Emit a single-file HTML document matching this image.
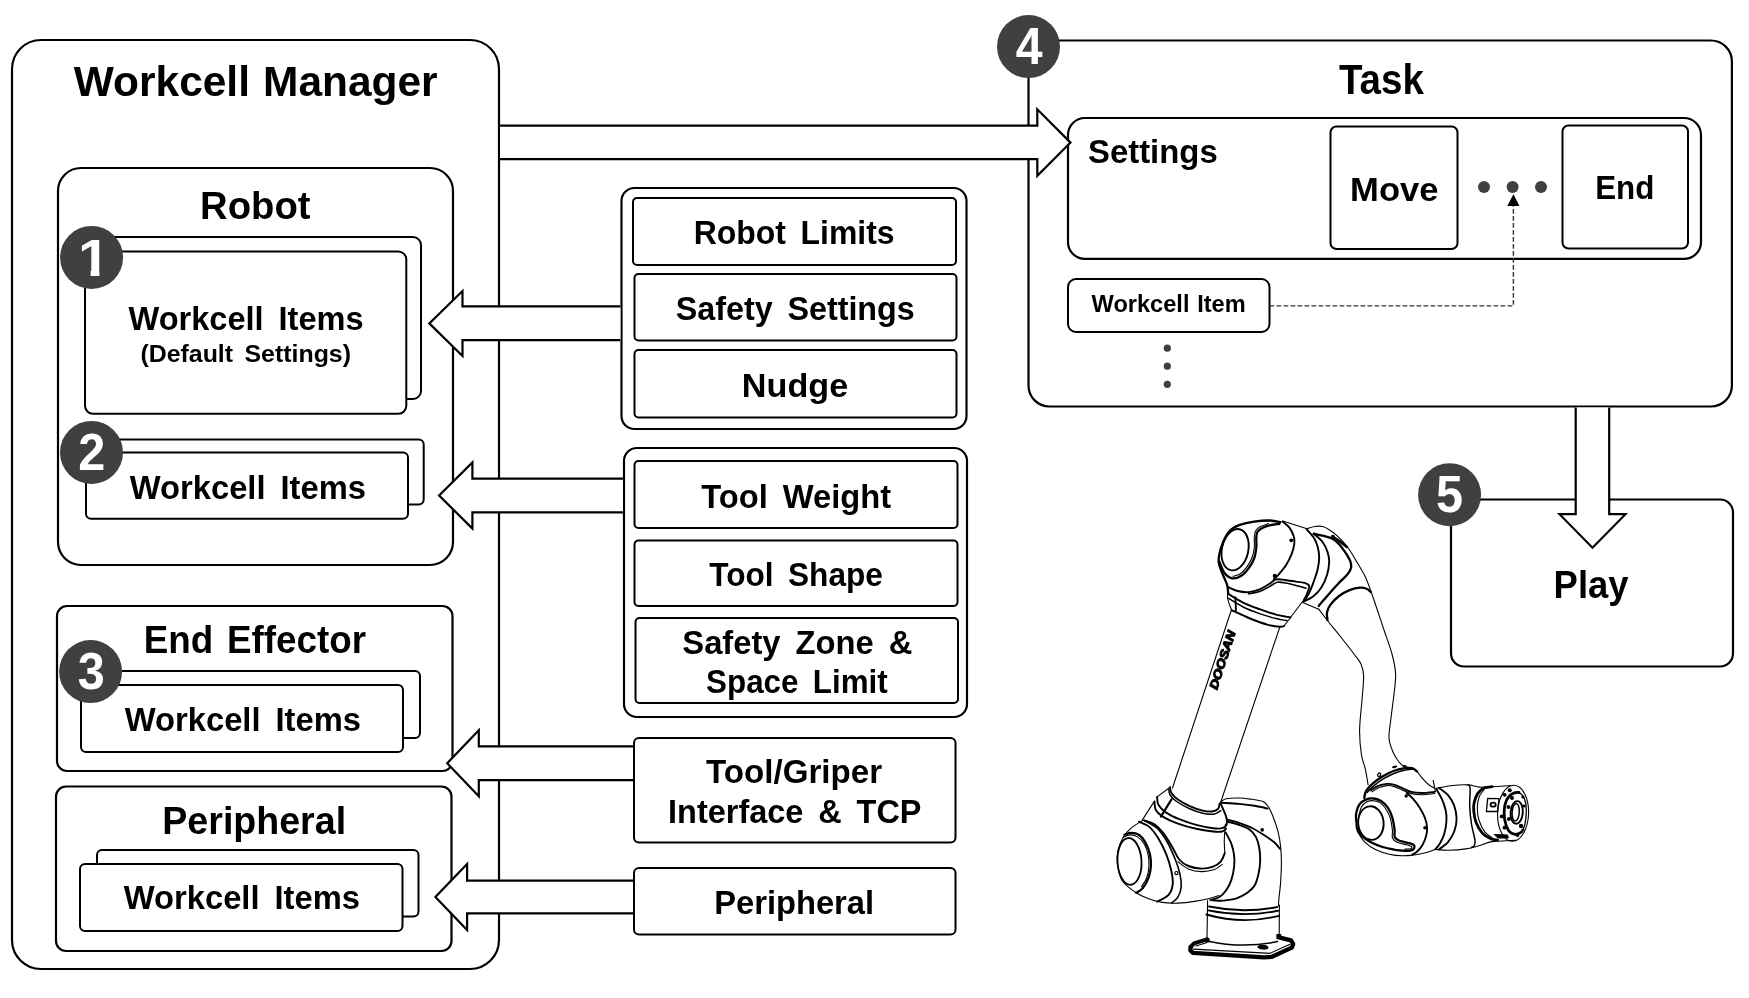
<!DOCTYPE html>
<html lang="en">
<head>
<meta charset="utf-8">
<title>Workcell Manager / Task / Play diagram</title>
<style>
html,body{margin:0;padding:0;background:#fff;}
body{width:1749px;height:998px;overflow:hidden;}
svg{display:block;filter:grayscale(1);}
text{font-family:"Liberation Sans","Noto Sans CJK KR",sans-serif;font-weight:bold;fill:#000;word-spacing:0.18em;}
.bx{fill:#fff;stroke:#000;stroke-width:2.2;}
.bx2{fill:#fff;stroke:#000;stroke-width:2;}
.ar{fill:#fff;stroke:#000;stroke-width:2.2;stroke-linejoin:miter;}
.cn{fill:#404040;}
.num{fill:#fff;font-size:52px;text-anchor:middle;}
.t1{font-size:43px;}
.t2{font-size:38px;}
.t3{font-size:33.5px;}
.t4{font-size:33.5px;}
.t5{font-size:24.7px;}
.t6{font-size:23.8px;}
.dot{fill:#404040;}
</style>
</head>
<body>
<svg width="1749" height="998" viewBox="0 0 1749 998">
<rect x="0" y="0" width="1749" height="998" fill="#fff"/>

<!-- ===== Workcell Manager column ===== -->
<g id="wm">
<rect class="bx" x="12" y="40" width="487" height="929" rx="29"/>
<text class="t1" x="73.8" y="95.7" textLength="363.8" lengthAdjust="spacingAndGlyphs" style="word-spacing:0.03em">Workcell Manager</text>

<!-- Robot -->
<rect class="bx" x="58" y="168" width="395" height="397" rx="23"/>
<text class="t2" x="200.1" y="218.6" textLength="110.4" lengthAdjust="spacingAndGlyphs">Robot</text>
<rect class="bx2" x="100" y="237" width="321" height="162" rx="8"/>
<rect class="bx2" x="85" y="251.500" width="321.300" height="162.300" rx="8"/>
<text class="t3" x="128.5" y="330.1" textLength="235.1" lengthAdjust="spacingAndGlyphs">Workcell Items</text>
<text class="t5" x="140.4" y="361.8" textLength="210.6" lengthAdjust="spacingAndGlyphs">(Default Settings)</text>
<rect class="bx2" x="101" y="439.500" width="322.700" height="65" rx="5"/>
<rect class="bx2" x="86" y="452.500" width="322" height="66.300" rx="5"/>
<text class="t3" x="129.8" y="498.5" textLength="236.1" lengthAdjust="spacingAndGlyphs">Workcell Items</text>

<!-- End Effector -->
<rect class="bx" x="57" y="606" width="395.500" height="165" rx="10"/>
<text class="t2" x="143.7" y="652.9" textLength="222.4" lengthAdjust="spacingAndGlyphs" style="word-spacing:0.1em">End Effector</text>
<rect class="bx2" x="97" y="671" width="323" height="67" rx="5"/>
<rect class="bx2" x="81" y="685" width="322" height="67" rx="5"/>
<text class="t3" x="124.8" y="731.0" textLength="236.1" lengthAdjust="spacingAndGlyphs">Workcell Items</text>

<!-- Peripheral -->
<rect class="bx" x="56" y="786.500" width="395.500" height="164.500" rx="10"/>
<text class="t2" x="162.3" y="833.9" textLength="183.8" lengthAdjust="spacingAndGlyphs">Peripheral</text>
<rect class="bx2" x="97" y="850" width="321.500" height="66.500" rx="5"/>
<rect class="bx2" x="80" y="864" width="322.500" height="67" rx="5"/>
<text class="t3" x="123.8" y="909.4" textLength="236.1" lengthAdjust="spacingAndGlyphs">Workcell Items</text>
</g>

<!-- ===== Middle column ===== -->
<g id="mid">
<rect class="bx" x="621.500" y="188" width="345" height="241" rx="13"/>
<rect class="bx2" x="633" y="198" width="323" height="67" rx="4"/>
<rect class="bx2" x="634.500" y="274" width="322" height="66.500" rx="4"/>
<rect class="bx2" x="634.500" y="350" width="322" height="67.500" rx="4"/>
<text class="t4" x="693.7" y="244.4" textLength="200.9" lengthAdjust="spacingAndGlyphs">Robot Limits</text>
<text class="t4" x="675.7" y="319.7" textLength="239.1" lengthAdjust="spacingAndGlyphs">Safety Settings</text>
<text class="t4" x="741.8" y="396.5" textLength="106.4" lengthAdjust="spacingAndGlyphs">Nudge</text>

<rect class="bx" x="624" y="448" width="343" height="269" rx="13"/>
<rect class="bx2" x="634.500" y="461" width="323" height="67" rx="4"/>
<rect class="bx2" x="634.500" y="540.500" width="323" height="65.500" rx="4"/>
<rect class="bx2" x="635.500" y="618" width="322.500" height="85" rx="4"/>
<text class="t4" x="701.3" y="507.6" textLength="189.9" lengthAdjust="spacingAndGlyphs">Tool Weight</text>
<text class="t4" x="709.2" y="585.7" textLength="173.7" lengthAdjust="spacingAndGlyphs">Tool Shape</text>
<text class="t4" x="682.3" y="654.0" textLength="230.1" lengthAdjust="spacingAndGlyphs">Safety Zone &amp;</text>
<text class="t4" x="706.1" y="693.1" textLength="181.6" lengthAdjust="spacingAndGlyphs">Space Limit</text>

<rect class="bx2" x="634" y="738" width="321.500" height="104.500" rx="5"/>
<text class="t4" x="706.1" y="782.9" textLength="176.0" lengthAdjust="spacingAndGlyphs">Tool/Griper</text>
<text class="t4" x="668.1" y="822.7" textLength="253.4" lengthAdjust="spacingAndGlyphs">Interface &amp; TCP</text>
<rect class="bx2" x="634" y="868" width="321.500" height="66.500" rx="5"/>
<text class="t4" x="714.2" y="913.9" textLength="159.9" lengthAdjust="spacingAndGlyphs">Peripheral</text>
</g>

<!-- ===== Task ===== -->
<g id="task">
<rect class="bx" x="1028.500" y="40.500" width="703.400" height="366" rx="21"/>
<text class="t1" x="1338.9" y="94.0" textLength="85.0" lengthAdjust="spacingAndGlyphs">Task</text>
<rect class="bx" x="1068" y="118" width="633" height="140.900" rx="17"/>
<text class="t4" x="1088.0" y="163.2" textLength="129.7" lengthAdjust="spacingAndGlyphs">Settings</text>
<rect class="bx2" x="1330.500" y="126.500" width="127" height="122.500" rx="6"/>
<text class="t4" x="1350.1" y="200.6" textLength="88.4" lengthAdjust="spacingAndGlyphs">Move</text>
<rect class="bx2" x="1562.500" y="125.500" width="125.500" height="123" rx="6"/>
<text class="t4" x="1595.2" y="199.2" textLength="59.2" lengthAdjust="spacingAndGlyphs">End</text>
<circle class="dot" cx="1484" cy="187" r="6"/>
<circle class="dot" cx="1512.600" cy="187" r="6"/>
<circle class="dot" cx="1541" cy="187" r="6"/>
<rect class="bx2" x="1068" y="279" width="201.500" height="53" rx="8"/>
<text class="t6" x="1091.6" y="311.5" textLength="154.1" lengthAdjust="spacingAndGlyphs" style="word-spacing:0.05em">Workcell Item</text>
<path d="M1269.500 305.900H1513.400V206" fill="none" stroke="#333" stroke-width="1.400" stroke-dasharray="4.800 2.200"/>
<path d="M1513.400 194.300L1519.500 206H1507.300Z" fill="#000"/>
<circle class="dot" cx="1167.300" cy="348.200" r="3.600"/>
<circle class="dot" cx="1167.300" cy="366.200" r="3.600"/>
<circle class="dot" cx="1167.300" cy="384.300" r="3.600"/>
</g>

<!-- ===== Play ===== -->
<g id="play">
<rect class="bx" x="1451" y="499.500" width="282" height="167" rx="13"/>
<text class="t2" x="1553.6" y="597.5" textLength="75.0" lengthAdjust="spacingAndGlyphs">Play</text>
</g>

<!-- ===== Block arrows ===== -->
<g id="arrows">
<path class="ar" d="M500.100 125.700H1037.300V109.300L1070.500 142.600L1037.300 175.900V159.200H500.100"/>
<path class="ar" d="M620.400 306.400H462.500V291L429.300 323.400L462.500 356V340.200H620.400"/>
<path class="ar" d="M622.900 478.600H472.400V462.500L439.100 495.500L472.400 528.500V512.400H622.900"/>
<path class="ar" d="M633 746.400H478.800V730.200L447.200 763.200L478.800 796.200V780.200H633"/>
<path class="ar" d="M633 880.600H467.100V864L435.400 896.900L467.100 930V913.300H633"/>
<path class="ar" d="M1575.700 407.600V514.200H1559.500L1592.500 547.700L1625.500 514.200H1609.200V407.600"/>
</g>

<!-- ===== Number badges ===== -->
<g id="badges">
<circle class="cn" cx="91.600" cy="257.400" r="31.500"/><clipPath id="c1"><rect x="60" y="225" width="65" height="44.800"/><rect x="90.600" y="269" width="8.800" height="10"/></clipPath><text class="num" x="94" y="275.800" textLength="31.800" lengthAdjust="spacingAndGlyphs" clip-path="url(#c1)">1</text>
<circle class="cn" cx="91.500" cy="452.400" r="31.500"/><text class="num" x="91.800" y="470.200" textLength="27" lengthAdjust="spacingAndGlyphs">2</text>
<circle class="cn" cx="90.600" cy="671.600" r="31.500"/><text class="num" x="91.200" y="689" textLength="27" lengthAdjust="spacingAndGlyphs">3</text>
<circle class="cn" cx="1028.500" cy="46.600" r="31.500"/><text class="num" x="1029.100" y="64.300" textLength="26.800" lengthAdjust="spacingAndGlyphs">4</text>
<circle class="cn" cx="1449.600" cy="494.700" r="31.500"/><text class="num" x="1449.600" y="512.200" textLength="27" lengthAdjust="spacingAndGlyphs">5</text>
</g>

<!-- ROBOT-START -->
<g id="robot" fill="none" stroke="#000" stroke-linecap="round" stroke-linejoin="round">
<path d="M1190.6 947L1194 943.4L1207 939.3" stroke-width="4"/>
<path d="M1280 937.6L1291 940.3L1293.2 944L1291.8 947.6L1272 956.8L1264 957.3L1193 952.8L1190.4 950.4L1190.6 947" stroke-width="4.3"/>
<path d="M1193.5 949.2L1270 953.3L1290 944.3" stroke-width="1.2"/>
<path d="M1196 946L1207 942.5" stroke-width="1.2"/>
<ellipse cx="1263" cy="947.2" rx="5.6" ry="2.4" fill="#000" stroke="none" transform="rotate(5 1263 947.2)"/>
<path d="M1207.6 900.5L1207 939" stroke-width="1.1"/>
<path d="M1279.4 905L1279.2 936" stroke-width="1.1"/>
<path d="M1208.5 941.2Q1243 948.8 1277.5 941.6" stroke-width="1.5"/>
<path d="M1209 906.5Q1243 913.6 1277.3 907" stroke-width="1.9"/>
<path d="M1208.4 910.4Q1243 917.6 1278 910.8" stroke-width="1.9"/>
<path d="M1206.3 914.5Q1243 925 1279 915.8" stroke-width="1.9"/>
<rect x="1276.4" y="934" width="4.8" height="5.2" fill="#000" stroke="none"/>
<rect x="1205" y="938.4" width="4.6" height="4" fill="#000" stroke="none"/>
<path d="M1220.8 801.9C1221.7 801.4 1223 799.4 1226 798.7C1229 798.1 1234.8 797.9 1239.1 798C1243.4 798.1 1248.2 798.8 1252.1 799.3C1256 799.8 1259.9 800.2 1262.5 801.3C1265.1 802.4 1266 803.3 1267.7 805.8C1269.4 808.3 1271.2 811.9 1272.9 816.3C1274.6 820.6 1276.8 826.7 1278.1 831.9C1279.4 837.1 1280.2 842.3 1280.7 847.5C1281.2 852.7 1281.4 857.5 1281.4 863.1C1281.4 868.8 1281.1 875.3 1280.7 881.4C1280.3 887.5 1279.2 895.5 1278.8 899.6C1278.4 903.7 1278.6 904.9 1278.6 906" stroke-width="1.1"/>
<path d="M1221.5 802.8C1224.4 803 1233.6 803.4 1239.1 803.9C1244.6 804.4 1249.9 805 1254.7 805.8C1259.5 806.6 1265.5 808.1 1267.7 808.6" stroke-width="1.9"/>
<path d="M1227.3 819.5C1229.3 820 1235 821.4 1239.1 822.8C1243.2 824.2 1247.8 825.8 1252.1 828C1256.4 830.2 1261.4 833.4 1265.1 835.8C1268.8 838.2 1271.7 840.1 1274.2 842.3C1276.7 844.5 1279.1 847.7 1280.1 848.8" stroke-width="1.9"/>
<path d="M1227.3 821.7C1229.3 822.2 1235.4 823.6 1239.1 824.9C1242.8 826.2 1246.7 827.5 1249.5 829.5C1252.3 831.5 1254.4 834.1 1256 837.1C1257.6 840.1 1258.5 843.6 1259.2 847.5C1259.9 851.4 1260.3 856.2 1260.2 860.5C1260.1 864.8 1259.5 869.4 1258.6 873.5C1257.7 877.6 1256.7 882 1254.7 885.3C1252.8 888.6 1249.9 890.9 1246.9 893.1C1243.9 895.3 1240.4 897 1236.5 898.3C1232.6 899.5 1227.3 900.2 1223.4 900.6C1219.5 901 1214.7 900.4 1213 900.4" stroke-width="1.9"/>
<path d="M1225.6 832.4C1226.5 834.3 1229.9 839.8 1231.3 843.6C1232.7 847.4 1233.6 851.4 1234.1 855.3C1234.6 859.2 1234.6 862.9 1234.1 867C1233.6 871.1 1232.6 876.2 1231.3 880.1C1230 884 1228 887.7 1226 890.5C1224 893.3 1222.1 895.4 1219.5 897C1216.9 898.6 1211.9 899.7 1210.4 900.2" stroke-width="1.9"/>
<path d="M1225.4 824.1C1225.2 826.7 1224.4 834.9 1224.3 839.7C1224.2 844.5 1224.7 850.8 1224.8 853" stroke-width="1.1"/>
<circle cx="1262.2" cy="829.9" r="1.8" fill="#000" stroke="none"/>
<path d="M1142.8 820.4C1140.8 821.7 1134.4 825.4 1131.1 828.2C1127.8 831 1125.4 833.6 1123.2 837.3C1121 841 1119 845.9 1118 850.3C1117 854.6 1116.8 858.4 1117.4 863.4C1118.1 868.4 1119 875.5 1121.9 880.3C1124.8 885.1 1130.7 889 1135 892C1139.3 895 1143.5 896.8 1148 898.5C1152.5 900.2 1157.3 901.6 1162.3 902.4C1167.3 903.2 1172.2 903.3 1177.9 903.1C1183.6 902.9 1191 901.9 1196.2 901.1C1201.4 900.3 1205.4 899.4 1209.2 898.5C1213 897.6 1217.4 896 1219 895.5" stroke-width="1.1"/>
<ellipse cx="1129.5" cy="861.4" rx="12" ry="23.4" transform="rotate(-3 1129.5 861.4)" stroke-width="1.8"/>
<path d="M1124.5 834.7C1125.6 834.4 1128.7 832.8 1131.1 832.8C1133.5 832.8 1136.5 833.1 1138.9 834.7C1141.3 836.3 1143.6 839.2 1145.4 842.5C1147.2 845.8 1149 850.3 1149.9 854.2C1150.8 858.1 1151.1 862.1 1150.9 866C1150.7 869.9 1149.9 874 1148.6 877.7C1147.2 881.4 1144.8 885.6 1142.8 888.1C1140.8 890.6 1137.4 891.9 1136.3 892.7" stroke-width="2.3"/>
<path d="M1123.2 837.3C1124.3 836.9 1127.3 835 1129.7 834.9C1132.1 834.8 1135.2 835.4 1137.6 836.9C1140 838.4 1142.4 840.9 1144.1 843.8C1145.8 846.7 1147.2 850.5 1148 854.2C1148.8 857.9 1149.2 862.1 1149 866C1148.8 869.9 1148 874.2 1146.7 877.7C1145.5 881.2 1142.4 885.3 1141.5 886.8" stroke-width="1.1"/>
<path d="M1138.9 821.7C1140.6 822.6 1146 824.1 1149.3 826.9C1152.5 829.7 1155.6 834 1158.4 838.6C1161.2 843.2 1164 848.8 1166.2 854.2C1168.4 859.6 1170.3 866.2 1171.4 871.2C1172.5 876.2 1173.1 880.3 1172.7 884.2C1172.3 888.1 1171.4 891.7 1168.8 894.6C1166.2 897.5 1159 900.6 1157.1 901.8" stroke-width="1.9"/>
<path d="M1144.1 820.4C1146.3 821.7 1153.2 824.5 1157.1 828.2C1161 831.9 1164.5 837.3 1167.5 842.5C1170.5 847.7 1173.2 854.3 1175.3 859.5C1177.4 864.7 1178.9 869.2 1179.9 873.8C1180.9 878.3 1181.5 882.9 1181.2 886.8C1180.9 890.7 1179.5 894.5 1177.9 897.2C1176.3 899.9 1172.5 902.1 1171.4 903.1" stroke-width="1.6"/>
<path d="M1144.1 820.4C1145.8 821 1151.2 822.1 1154.5 824.3C1157.8 826.5 1160.6 829.5 1163.6 833.4C1166.6 837.3 1170.1 843.4 1172.7 847.7C1175.3 852.1 1176.6 856.5 1179.2 859.5C1181.8 862.5 1184.7 864.5 1188.4 866C1192.1 867.5 1197.3 868.5 1201.4 868.6C1205.5 868.7 1209.8 867.8 1213.1 866.6C1216.3 865.4 1219 863.7 1220.9 861.4C1222.9 859.1 1224.2 854.4 1224.8 853" stroke-width="1.9"/>
<path d="M1177.9 861.8C1179.7 863 1184.5 867.3 1188.4 868.9C1192.3 870.5 1197.1 871.5 1201.4 871.6C1205.7 871.7 1210.9 870.8 1214.4 869.6C1217.9 868.4 1220.9 865.3 1222.2 864.4" stroke-width="1.1"/>
<path d="M1170.1 787.2C1170.3 788.2 1170.1 791 1171.4 793C1172.7 795 1174.9 797.3 1177.9 799.5C1181 801.7 1185.6 804.2 1189.7 806.1C1193.8 808 1198.8 809.7 1202.7 810.6C1206.6 811.5 1210.5 811.6 1213.1 811.3C1215.7 811 1217.2 810 1218.3 808.7C1219.4 807.4 1219.4 804.3 1219.6 803.4" stroke-width="1.9"/>
<path d="M1168.8 789.1C1169 790.1 1168.8 792.9 1170.1 795C1171.4 797.1 1173.3 799.2 1176.6 801.5C1179.9 803.8 1185.3 806.8 1189.7 808.7C1194.1 810.7 1198.6 812.3 1202.7 813.2C1206.8 814.1 1211.4 814.3 1214.4 813.9C1217.4 813.5 1219.8 811.1 1220.9 810.6" stroke-width="1.5"/>
<path d="M1157.1 796.9C1157.3 798.2 1156.9 802.1 1158.4 804.7C1159.9 807.3 1162.7 810.2 1166.2 812.6C1169.7 815 1174.2 817.1 1179.2 819.1C1184.2 821.1 1190.6 823.4 1196.2 824.9C1201.8 826.4 1208.8 827.7 1213.1 828.2C1217.4 828.8 1219.9 828.9 1222.2 828.2C1224.5 827.6 1226.2 826.2 1226.8 824.3C1227.4 822.3 1227.1 819.9 1226.1 816.5C1225.1 813.1 1221.8 806.2 1220.9 804.1" stroke-width="1.9"/>
<path d="M1154.5 801.5C1154.7 802.9 1154.3 807.4 1155.8 810C1157.3 812.6 1159.9 814.8 1163.6 817.1C1167.3 819.4 1172.5 821.7 1177.9 823.6C1183.3 825.5 1190.3 827.5 1196.2 828.8C1202.1 830.1 1208.8 831 1213.1 831.5C1217.4 832 1220 832 1222.2 831.5C1224.4 831 1225.4 829.2 1226.1 828.8" stroke-width="1.9"/>
<path d="M1170.1 787.2L1157.1 796.9" stroke-width="1.1"/>
<path d="M1153.8 802.1L1142.1 820.4" stroke-width="1.1"/>
<path d="M1171.4 799.5L1161 816.5" stroke-width="2.3"/>
<circle cx="1176.4" cy="873.1" r="1.6" stroke-width="1.2"/>
<path d="M1231.5 609.5L1172.5 788" stroke-width="1.1"/>
<path d="M1280 626.5L1220.6 802.5" stroke-width="1.1"/>
<text transform="translate(1216.9 690.2) rotate(-72)" font-size="12" font-style="italic" textLength="61" lengthAdjust="spacingAndGlyphs" stroke="#000" stroke-width="1.1" style="word-spacing:0">DOOSAN</text>
<path d="M1280.5 522.1C1278.7 521.8 1273.9 520.6 1269.5 520.5C1265.1 520.4 1259 520.9 1254.1 521.6C1249.1 522.3 1243.8 523.4 1239.8 524.9C1235.8 526.4 1232.6 528 1229.8 530.9C1227 533.8 1224.9 538.1 1223.2 542C1221.5 545.9 1220.1 550.6 1219.4 554.1C1218.7 557.6 1218.3 559.8 1218.8 562.9C1219.2 566 1220.7 569.1 1222.1 572.8C1223.5 576.5 1226.1 581.4 1227.1 584.9C1228.1 588.4 1228 592.3 1228.2 593.8" stroke-width="2.3"/>
<ellipse cx="1235.1" cy="549.7" rx="13.2" ry="20.9" transform="rotate(12 1235.1 549.7)" stroke-width="1.9"/>
<path d="M1219.4 561.8C1220.2 563.6 1222.2 570 1224.3 572.8C1226.4 575.5 1229.2 577.8 1232 578.3C1234.8 578.8 1238.1 577.8 1240.9 576.1C1243.7 574.5 1246.4 571.3 1248.6 568.4C1250.8 565.5 1252.8 562 1254.1 558.5C1255.4 555 1255.9 551 1256.3 547.5C1256.7 544 1256.1 540.2 1256.3 537.6C1256.5 535 1256.5 533.6 1257.4 532C1258.3 530.4 1259.8 529.3 1261.8 528.2C1263.8 527.1 1266.6 526.1 1269.5 525.4C1272.4 524.7 1277.8 524.1 1279.4 523.8" stroke-width="2.3"/>
<path d="M1233 576.3C1234.2 575.9 1237.7 575.5 1240 574C1242.3 572.5 1244.6 570.1 1246.6 567.4C1248.6 564.6 1250.8 560.8 1252.1 557.5C1253.4 554.2 1253.9 550.8 1254.3 547.5C1254.7 544.2 1254.1 540.4 1254.3 537.6C1254.5 534.9 1254.6 532.8 1255.6 531C1256.6 529.2 1258.3 527.8 1260.5 526.6C1262.7 525.4 1267.2 524.1 1268.5 523.6" stroke-width="1.1"/>
<path d="M1282.7 521.6C1283.8 522.6 1287.6 525.1 1289.4 527.6C1291.2 530.1 1293 533.7 1293.8 536.5C1294.6 539.3 1294.7 541.3 1294.3 544.2C1293.9 547.1 1293 550.6 1291.6 554.1C1290.2 557.6 1288.3 561.6 1286.1 565.1C1283.9 568.6 1280.3 572.7 1278.3 575C1276.3 577.3 1274.6 578.2 1273.9 578.9" stroke-width="1.9"/>
<circle cx="1291.3" cy="540.3" r="1.9" fill="#000" stroke="none"/>
<circle cx="1274.8" cy="575.9" r="2.1" fill="#000" stroke="none"/>
<path d="M1228.2 587.2C1229.8 587.8 1234.2 590.2 1237.6 591C1241 591.8 1244.9 592.4 1248.6 592.1C1252.3 591.8 1256.1 590.8 1259.6 589.4C1263.1 588 1266.8 585.5 1269.5 583.8C1272.2 582.1 1273.5 580 1276.1 579.4C1278.7 578.8 1281.7 579.6 1285 580C1288.3 580.4 1292.5 581.1 1296 581.6C1299.5 582.1 1303.7 582.5 1305.9 583.3C1308.1 584 1309 584.4 1309.2 586.1C1309.4 587.9 1307.9 591.4 1307 593.8C1306.1 596.2 1304.2 599.3 1303.7 600.4" stroke-width="1.9"/>
<path d="M1248.6 593.8C1250.4 593.4 1256.1 592.8 1259.6 591.6C1263.1 590.4 1266.6 588.2 1269.5 586.6C1272.4 585 1274.2 582.8 1277.2 582.2C1280.2 581.7 1283.7 582.6 1287.2 583.3C1290.7 583.9 1295.1 585.3 1298.2 586.1C1301.3 586.9 1304.6 587.9 1305.9 588.3" stroke-width="1.6"/>
<path d="M1282.7 521L1307 528.7" stroke-width="1.1"/>
<path d="M1306.6 529.3C1307.8 530.7 1311.9 534.8 1313.7 537.6C1315.5 540.5 1316.7 543.1 1317.6 546.4C1318.5 549.7 1319.2 553.5 1319.2 557.4C1319.2 561.2 1318.5 565.5 1317.6 569.5C1316.7 573.5 1315.1 577.7 1313.7 581.6C1312.3 585.5 1310.8 589.5 1309.3 592.7C1307.8 595.9 1305.3 599.6 1304.5 601" stroke-width="1.9"/>
<path d="M1313.7 533.7C1315.2 535.1 1320.3 539 1322.6 542C1324.9 545 1326.4 548.6 1327.5 551.9C1328.6 555.2 1329.3 557.9 1329.2 561.8C1329.1 565.6 1328.3 570.8 1327 575C1325.7 579.2 1323.7 583.7 1321.5 587.2C1319.3 590.7 1316.7 593.6 1313.7 596C1310.8 598.4 1305.5 600.6 1303.8 601.5" stroke-width="1.9"/>
<path d="M1313.7 533.7C1315.4 534.1 1320.6 535.1 1323.7 535.9C1326.8 536.7 1329.9 537.3 1332.5 538.7C1335.1 540.1 1336.9 541.8 1339.1 544.2C1341.3 546.6 1343.9 550.2 1345.7 553C1347.5 555.8 1349.2 558.3 1350.1 560.7C1351 563.1 1351.6 565.1 1351.2 567.3C1350.8 569.5 1349.9 571.3 1347.9 573.9C1345.9 576.5 1342.4 579.2 1339.1 582.7C1335.8 586.2 1331.5 591 1328.1 594.9C1324.7 598.8 1320.3 604.1 1318.7 605.9" stroke-width="2.3"/>
<path d="M1332.5 536.5C1333.6 537.2 1336.7 539.2 1339.1 540.9C1341.5 542.6 1345.5 545.9 1346.8 546.9" stroke-width="2.6"/>
<path d="M1307 528.7C1308.3 528.3 1312.2 526.9 1314.8 526.5C1317.4 526.1 1320.2 526 1322.6 526.5C1325 527 1326.5 527.9 1329.2 529.8C1332 531.6 1336 534.6 1339.1 537.6C1342.2 540.6 1345 543.5 1347.9 547.5C1350.8 551.5 1353.8 556.8 1356.7 561.8C1359.6 566.8 1363.1 572.2 1365.5 577.2C1367.9 582.2 1369.2 586.8 1371 591.6C1372.8 596.4 1373.8 599.6 1376 606C1378.2 612.4 1381.3 622 1384 630C1386.7 638 1390.1 646.7 1392 654C1393.9 661.3 1395.3 667.3 1395.6 674C1395.9 680.7 1394.8 686.7 1394 694C1393.2 701.3 1391.8 710.7 1391 718C1390.2 725.3 1388.7 732.3 1389 738C1389.3 743.7 1391.5 748.2 1393 752C1394.5 755.8 1396.2 758.2 1397.9 760.5C1399.6 762.8 1401.2 764.8 1403.4 766C1405.6 767.2 1409.8 767.7 1411.1 768" stroke-width="1.1"/>
<path d="M1371 592.1C1370.3 591.5 1368.4 589.5 1366.6 588.8C1364.8 588.1 1362.8 587.5 1360 587.7C1357.2 587.9 1353.6 588.5 1350.1 589.9C1346.6 591.3 1342.4 593.5 1339.1 596C1335.8 598.5 1332.3 602 1330.3 604.8C1328.3 607.5 1327.5 610 1327 612.5C1326.5 615 1327.4 618.8 1327.5 620" stroke-width="2.3"/>
<path d="M1302.7 602.6L1318.7 609.2" stroke-width="1.1"/>
<path d="M1318.7 609.2C1320.1 611 1323.5 615.5 1327 620C1330.5 624.5 1335.5 630.3 1340 636C1344.5 641.7 1350.5 649.3 1354 654C1357.5 658.7 1359.4 660.3 1361 664C1362.6 667.7 1363.4 670 1363.6 676C1363.8 682 1362.7 691 1362 700C1361.3 709 1359.7 720.8 1359.6 730C1359.5 739.2 1360.5 748.5 1361.5 755C1362.5 761.5 1364.3 764.3 1365.4 769.3C1366.5 774.3 1367.6 782.2 1368.1 784.8" stroke-width="1.1"/>
<circle cx="1332.9" cy="536.6" r="1.9" fill="#000" stroke="none"/>
<path d="M1228.2 587.2C1228.1 589 1227.2 594.9 1227.6 598.2C1228 601.5 1229.7 605 1230.4 607C1231.1 609 1231.7 609.8 1232 610.3" stroke-width="1.1"/>
<path d="M1228.2 593.8C1230.7 595.3 1237.9 600 1243.1 602.6C1248.3 605.2 1254.1 607.2 1259.6 609.2C1265.1 611.2 1270.9 613.3 1276.1 614.7C1281.2 616.1 1288.1 617 1290.5 617.5" stroke-width="1.9"/>
<path d="M1228.2 598.2C1230.7 599.7 1237.9 604.4 1243.1 607C1248.3 609.6 1254.1 611.7 1259.6 613.6C1265.1 615.5 1271.5 617.4 1276.1 618.6C1280.7 619.8 1285.2 620.3 1287 620.6" stroke-width="1.5"/>
<path d="M1232 610.3C1235 611.7 1244 616.1 1250 618.5C1256 620.9 1263 623.4 1268 624.8C1273 626.2 1277.3 626.6 1280 626.8C1282.7 627 1283.3 626.1 1284 626" stroke-width="1.9"/>
<path d="M1284 626L1302.6 601.5" stroke-width="1.1"/>
<path d="M1235.4 597.1L1235.9 610.3" stroke-width="1.9"/>
<path d="M1357.1 831C1358.4 832.9 1361.7 839 1364.8 842.1C1367.9 845.2 1371.9 847.8 1375.9 849.8C1380 851.8 1384.7 853.2 1389.1 854.2C1393.5 855.2 1397.9 855.7 1402.3 855.8C1406.7 855.9 1411.5 855.2 1415.5 854.7C1419.5 854.2 1423.3 853.4 1426.6 852.5C1429.9 851.6 1433.9 849.8 1435.4 849.2" stroke-width="1.1"/>
<ellipse cx="1370.9" cy="823.1" rx="12.7" ry="16.8" transform="rotate(-5 1370.9 823.1)" stroke-width="1.9"/>
<path d="M1356.6 823.3C1356.5 821.8 1355.5 817.6 1356 814.5C1356.5 811.4 1357.6 807.1 1359.3 804.6C1361 802.1 1363.5 800.6 1365.9 799.6C1368.3 798.6 1371.1 798.2 1373.7 798.5C1376.3 798.8 1379 799.7 1381.4 801.3C1383.8 802.9 1386.2 805.1 1388 807.9C1389.8 810.6 1391.3 814.1 1392.4 817.8C1393.5 821.5 1394.2 826.8 1394.6 829.9C1395 833 1394 834.9 1394.6 836.6C1395.1 838.3 1396.2 839 1397.9 839.9C1399.6 840.8 1402.3 841.5 1404.5 842.1C1406.7 842.7 1409.4 843.1 1411.1 843.7C1412.8 844.3 1414.1 844.9 1414.4 845.9C1414.7 846.9 1414.1 849 1412.8 849.8C1411.5 850.6 1409.5 850.9 1406.7 850.9C1403.9 850.9 1399.7 850.4 1395.7 849.8C1391.7 849.1 1386.7 848.3 1382.5 847C1378.3 845.7 1373.8 844 1370.3 842.1C1366.8 840.2 1363.7 837.7 1361.5 835.5C1359.3 833.3 1357.9 830.8 1357.1 828.8C1356.3 826.8 1356.7 824.2 1356.6 823.3" stroke-width="2.3"/>
<path d="M1358.8 816.7C1359.2 815.1 1360.1 809.3 1361.5 806.8C1362.9 804.3 1365 802.8 1367 801.8C1369 800.8 1371.5 800.5 1373.7 800.7C1375.9 800.9 1378.3 801.5 1380.3 802.9C1382.3 804.3 1384.1 806.5 1385.8 809C1387.5 811.5 1389.1 814.3 1390.2 817.8C1391.3 821.3 1392 826.6 1392.4 829.9C1392.8 833.2 1391.7 835.7 1392.4 837.7C1393.1 839.7 1394.4 840.9 1396.8 842.1C1399.2 843.3 1404.2 844.1 1406.7 844.8C1409.2 845.5 1411.1 845.9 1411.7 846.5C1412.3 847.1 1411.8 848.2 1410.6 848.7C1409.4 849.2 1405.5 849.1 1404.5 849.2" stroke-width="1.1"/>
<path d="M1364.3 798C1364.6 796.9 1364.5 793.8 1365.9 791.4C1367.3 789 1369.8 786.2 1372.6 783.7C1375.4 781.2 1379 778.6 1382.5 776.5C1386 774.4 1389.8 772.4 1393.5 771C1397.2 769.6 1401.4 768.7 1404.5 768.2C1407.6 767.7 1410.1 767.7 1412.2 768.2C1414.3 768.8 1416.4 771 1417.2 771.5" stroke-width="2.3"/>
<path d="M1367 792.5C1368.1 791.4 1370.9 788.2 1373.7 785.9C1376.5 783.6 1380.1 780.8 1383.6 778.7C1387.1 776.6 1390.9 774.7 1394.6 773.2C1398.3 771.7 1402.5 770.5 1405.6 769.9C1408.7 769.2 1412 769.4 1413.3 769.3" stroke-width="1.5"/>
<ellipse cx="1379.2" cy="774.8" rx="1.4" ry="1.9" stroke-width="1.3" transform="rotate(25 1379.2 774.8)"/>
<ellipse cx="1394.6" cy="766.8" rx="2.6" ry="1.2" fill="#000" stroke="none" transform="rotate(-15 1394.6 766.8)"/>
<ellipse cx="1404.5" cy="765.9" rx="2" ry="0.9" fill="#000" stroke="none"/>
<path d="M1370.9 790.3C1372.1 789.6 1375.4 787 1378.1 785.9C1380.8 784.8 1384.2 784.1 1386.9 783.9C1389.7 783.7 1392 784.1 1394.6 784.8C1397.2 785.5 1399.5 786.9 1402.3 788.1C1405 789.3 1407.8 791.1 1411.1 791.9C1414.4 792.7 1418.2 793 1422.2 793C1426.2 793 1432.7 792.1 1434.8 791.9" stroke-width="1.9"/>
<path d="M1372 791.8C1373.2 791.1 1376.5 788.6 1379 787.6C1381.5 786.6 1384.3 785.8 1386.9 785.6C1389.5 785.4 1391.9 785.9 1394.4 786.6C1396.9 787.3 1399.2 788.7 1402 789.9C1404.8 791.1 1407.6 792.8 1411 793.6C1414.4 794.4 1418.2 794.7 1422.2 794.7C1426.2 794.7 1432.7 793.7 1434.8 793.5" stroke-width="1.1"/>
<path d="M1406.7 793C1407.8 794 1411.1 796.6 1413.3 799.1C1415.5 801.6 1418 804.8 1419.9 807.9C1421.8 811 1423.7 814.5 1424.9 817.8C1426.1 821.1 1426.9 824.6 1427.1 827.7C1427.3 830.8 1426.8 833.7 1426 836.6C1425.2 839.5 1423.8 842.8 1422.2 845.4C1420.6 848 1418.3 850.5 1416.6 852C1414.9 853.5 1412.9 854.2 1412.2 854.7" stroke-width="1.9"/>
<circle cx="1406.2" cy="796" r="1.7" fill="#000" stroke="none"/>
<circle cx="1424.9" cy="827.7" r="1.7" fill="#000" stroke="none"/>
<path d="M1417.2 771.5C1418 772.6 1420.3 775.9 1422.2 778.1C1424.1 780.3 1426.7 783.1 1428.8 784.8C1430.9 786.5 1433.8 787.5 1434.8 788.1" stroke-width="1.1"/>
<path d="M1433.2 780.4L1435.4 791.4" stroke-width="1.1"/>
<path d="M1436.3 789C1437.2 790.6 1440.2 795.2 1441.8 798.9C1443.4 802.5 1445 807 1445.8 810.9C1446.6 814.8 1446.7 818.1 1446.4 822C1446.1 825.9 1445.3 830.3 1444.2 834C1443.1 837.7 1441.1 841.5 1439.6 844C1438.1 846.5 1436.1 848.3 1435.4 849.2" stroke-width="1.9"/>
<path d="M1439 788C1440.5 789.2 1445.5 792.2 1448 795.2C1450.5 798.2 1452.9 802.1 1454.3 806C1455.7 809.9 1456.6 814.5 1456.6 818.7C1456.6 822.9 1455.7 827.4 1454.3 831.3C1452.9 835.2 1450.5 839.1 1448 842.1C1445.5 845.1 1440.5 848.2 1439 849.4" stroke-width="1.9"/>
<path d="M1436.5 788.3C1439.2 787.8 1447.3 786.1 1452.5 785.5C1457.7 784.9 1463.4 784.6 1467.9 784.9C1472.4 785.2 1475.5 786.8 1479.6 787.1C1483.6 787.4 1486.9 787 1492.2 786.7C1497.5 786.4 1508 785.7 1511.2 785.5" stroke-width="1.1"/>
<path d="M1435.4 849.4C1437.5 849.5 1442.9 850.4 1448 850.3C1453.1 850.2 1460.6 849.7 1466 848.9C1471.4 848.1 1476.6 846.4 1480.5 845.3C1484.4 844.2 1486.7 842.8 1489.5 842.1C1492.3 841.4 1493.2 841.5 1497.6 841.2C1502 840.9 1512.7 840.4 1515.7 840.3" stroke-width="1.1"/>
<path d="M1467.9 784.9C1468.3 785.4 1469.8 784.5 1470.1 788C1470.4 791.5 1469.5 800 1469.7 806C1469.9 812 1470.6 818.3 1471.5 824C1472.4 829.7 1474.5 836.7 1475 840.3C1475.5 843.9 1474.7 844.6 1474.2 845.7C1473.7 846.8 1472.4 846.8 1472 847" stroke-width="1.5"/>
<path d="M1492.2 786.7C1490.8 786.9 1486.5 786.9 1484.1 788C1481.7 789.1 1479.4 791 1477.8 793.4C1476.2 795.8 1474.9 799.6 1474.2 802.5C1473.5 805.4 1473.4 807.3 1473.7 810.6C1474 813.9 1474.6 818.5 1476 822.3C1477.4 826 1479.8 830.3 1482.3 833.1C1484.8 835.9 1488.8 837.9 1491.3 839C1493.8 840.1 1496.5 839.8 1497.6 839.9" stroke-width="2.8"/>
<path d="M1484.1 789.4C1483.3 790.7 1480.2 793.9 1479.1 797C1478 800.1 1477.3 804 1477.3 807.9C1477.3 811.8 1477.8 816.5 1479.1 820.5C1480.4 824.5 1482.7 829.2 1485 832.2C1487.3 835.2 1491.8 837.5 1493.1 838.5" stroke-width="1.1"/>
<ellipse cx="1513.1" cy="813.3" rx="15.5" ry="28" transform="rotate(2 1513.1 813.3)" stroke-width="1.1"/>
<path d="M1519 792.5C1512 791.5 1506.500 797 1504.700 806C1503.200 814 1504.500 824 1508.500 830.500C1512 835 1517 835.500 1521.500 832" stroke-width="2.8"/>
<path d="M1519 792.500C1524 795 1526.500 803 1526.300 812C1526 821 1524.500 828.500 1521.500 832" stroke-width="1.3"/>
<ellipse cx="1516.7" cy="812.4" rx="6.1" ry="11.3" transform="rotate(4 1516.7 812.4)" stroke-width="1.9"/>
<ellipse cx="1515.7" cy="812.2" rx="3.6" ry="8.8" transform="rotate(4 1515.7 812.2)" stroke-width="1.5"/>
<circle cx="1509.8" cy="790.3" r="2" fill="#000" stroke="none"/>
<circle cx="1504.7" cy="794.8" r="1.9" fill="#000" stroke="none"/>
<circle cx="1512" cy="798" r="2" fill="#000" stroke="none"/>
<circle cx="1508.4" cy="807" r="1.9" fill="#000" stroke="none"/>
<circle cx="1501.7" cy="816.4" r="1.9" fill="#000" stroke="none"/>
<circle cx="1508.9" cy="819" r="1.9" fill="#000" stroke="none"/>
<circle cx="1504.4" cy="827.7" r="1.9" fill="#000" stroke="none"/>
<circle cx="1521" cy="826" r="2.2" fill="#000" stroke="none"/>
<circle cx="1517.5" cy="835" r="1.9" fill="#000" stroke="none"/>
<circle cx="1522.9" cy="797" r="1.6" fill="#000" stroke="none"/>
<circle cx="1523.8" cy="806" r="1.5" fill="#000" stroke="none"/>
<circle cx="1522.9" cy="830" r="1.6" fill="#000" stroke="none"/>
<path d="M1487.7 798.4L1499 798.7L1497.6 811.5L1486.4 811.5Z" stroke-width="1.3"/>
<ellipse cx="1493.1" cy="804.7" rx="2.6" ry="2" stroke-width="1.8"/>
<path d="M1494.5 834.5L1507.5 835L1508.4 838L1498.5 838Z" stroke-width="1" fill="#000"/>
</g>
<!-- ROBOT-END -->
</svg>
</body>
</html>
